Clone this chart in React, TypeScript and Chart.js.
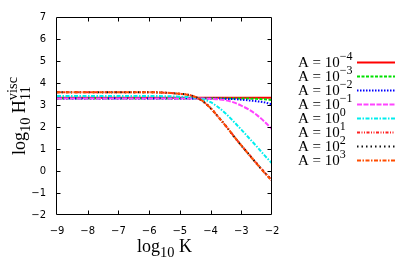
import { useEffect, useRef } from "react";
import { Chart, registerables } from "chart.js";

Chart.register(...registerables);

// ---- data ----
const logK = [-9, -8, -7, -6.5, -6, -5.5, -5, -4.75, -4.5, -4.25, -4, -3.75, -3.5, -3.25, -3, -2.75, -2.5, -2.25, -2];

const hA1em4 = [3.33, 3.33, 3.33, 3.33, 3.33, 3.33, 3.33, 3.33, 3.33, 3.33, 3.33, 3.33, 3.33, 3.33, 3.33, 3.33, 3.33, 3.33, 3.33];
const hA1em3 = [3.3, 3.3, 3.3, 3.3, 3.3, 3.3, 3.3, 3.3, 3.3, 3.3, 3.3, 3.3, 3.3, 3.3, 3.3, 3.29, 3.28, 3.26, 3.23];
const hA1em2 = [3.29, 3.29, 3.29, 3.29, 3.29, 3.29, 3.29, 3.29, 3.29, 3.29, 3.29, 3.29, 3.28, 3.27, 3.24, 3.21, 3.17, 3.12, 3.03];
const hA1em1 = [3.29, 3.29, 3.29, 3.29, 3.29, 3.29, 3.29, 3.29, 3.29, 3.29, 3.28, 3.26, 3.21, 3.12, 2.97, 2.79, 2.55, 2.25, 1.9];
const hA1e0 = [3.41, 3.41, 3.41, 3.41, 3.41, 3.4, 3.38, 3.36, 3.33, 3.26, 3.13, 2.9, 2.6, 2.25, 1.88, 1.5, 1.12, 0.72, 0.35];
const hA1e1 = [3.58, 3.58, 3.58, 3.58, 3.58, 3.56, 3.51, 3.47, 3.37, 3.17, 2.86, 2.46, 2.04, 1.6, 1.17, 0.76, 0.35, -0.05, -0.43];
const hA1e2 = [3.58, 3.58, 3.58, 3.58, 3.58, 3.56, 3.51, 3.47, 3.37, 3.17, 2.86, 2.46, 2.04, 1.59, 1.16, 0.75, 0.34, -0.06, -0.44];
const hA1e3 = [3.58, 3.58, 3.58, 3.58, 3.58, 3.56, 3.51, 3.47, 3.37, 3.17, 2.86, 2.46, 2.04, 1.59, 1.16, 0.74, 0.33, -0.07, -0.45];

const seriesValues = [hA1em4, hA1em3, hA1em2, hA1em1, hA1e0, hA1e1, hA1e2, hA1e3];
const legendExponents = ["\u22124", "\u22123", "\u22122", "\u22121", "0", "1", "2", "3"];

const xTickValues = [-9, -8, -7, -6, -5, -4, -3, -2];
const yTickValues = [-2, -1, 0, 1, 2, 3, 4, 5, 6, 7];

// ---- styles ----
const seriesStyles = [
  { color: "#ff0000", dash: [] as number[] },
  { color: "#00e000", dash: [3, 1.5] },
  { color: "#0000ff", dash: [1.5, 1.5] },
  { color: "#ff44ff", dash: [5, 1.5] },
  { color: "#00eeee", dash: [4, 1.5, 1.5, 1.5] },
  { color: "#ff2020", dash: [3, 1.5, 1, 1.5, 1, 1.5] },
  { color: "#111111", dash: [1.5, 3] },
  { color: "#ff4d00", dash: [4, 1.5, 1.5, 1.5] },
];

const SERIF = '"Liberation Serif", "Times New Roman", serif';
const SANS = '"DejaVu Sans", sans-serif';

type Seg = { t: string; s: number; dy: number; noAdvance?: boolean };

function drawSegs(ctx: CanvasRenderingContext2D, segs: Seg[], x: number, y: number, center: boolean) {
  let total = 0;
  let pend = 0;
  const widths = segs.map((g) => {
    ctx.font = `${g.s}px ${SERIF}`;
    return ctx.measureText(g.t).width;
  });
  segs.forEach((g, i) => {
    if (g.noAdvance) pend = Math.max(pend, widths[i]);
    else {
      total += Math.max(widths[i], pend);
      pend = 0;
    }
  });
  total += pend;
  let cx = center ? x - total / 2 : x;
  pend = 0;
  ctx.textAlign = "left";
  ctx.textBaseline = "alphabetic";
  segs.forEach((g, i) => {
    ctx.font = `${g.s}px ${SERIF}`;
    ctx.fillText(g.t, cx, y + g.dy);
    if (g.noAdvance) pend = Math.max(pend, widths[i]);
    else {
      cx += Math.max(widths[i], pend);
      pend = 0;
    }
  });
}

const framePlugin = {
  id: "gnuFrame",
  afterDatasetsDraw(chart: any) {
    const { ctx, chartArea: a, scales } = chart;
    const xs = scales.x;
    const ys = scales.y;
    ctx.save();
    ctx.strokeStyle = "#000";
    ctx.lineWidth = 1;
    ctx.setLineDash([]);
    const L = Math.round(a.left) - 0.5;
    const R = Math.round(a.right) - 0.5;
    const T = Math.round(a.top) + 0.5;
    const B = Math.round(a.bottom) - 0.5;
    ctx.beginPath();
    ctx.rect(L, T, R - L, B - T);
    ctx.stroke();
    const tl = 4;
    ctx.beginPath();
    for (const v of yTickValues) {
      const py = Math.round(ys.getPixelForValue(v)) + 0.5;
      if (py <= T + 1 || py >= B - 1) continue;
      ctx.moveTo(L, py);
      ctx.lineTo(L + tl, py);
      ctx.moveTo(R, py);
      ctx.lineTo(R - tl, py);
    }
    for (const v of xTickValues) {
      const px = Math.round(xs.getPixelForValue(v)) + 0.5;
      if (px <= L + 1 || px >= R - 1) continue;
      ctx.moveTo(px, B);
      ctx.lineTo(px, B - tl);
      ctx.moveTo(px, T);
      ctx.lineTo(px, T + tl);
    }
    ctx.stroke();

    // axis titles
    ctx.fillStyle = "#000";
    const cxm = (a.left + a.right) / 2;
    drawSegs(
      ctx,
      [
        { t: "log", s: 18, dy: 0 },
        { t: "10", s: 14.4, dy: 5 },
        { t: " K", s: 18, dy: 0 },
      ],
      cxm,
      252,
      true
    );
    ctx.save();
    ctx.translate(25, (a.top + a.bottom) / 2);
    ctx.rotate(-Math.PI / 2);
    drawSegs(
      ctx,
      [
        { t: "log", s: 18, dy: 0 },
        { t: "10", s: 14.4, dy: 5 },
        { t: " H", s: 18, dy: 0 },
        { t: "11", s: 14.4, dy: 5, noAdvance: true },
        { t: "visc", s: 14.4, dy: -8 },
      ],
      0,
      0,
      true
    );
    ctx.restore();

    // legend
    seriesStyles.forEach((st, i) => {
      const y = 62 + 14 * i;
      ctx.fillStyle = "#000";
      drawSegs(
        ctx,
        [
          { t: "A = 10", s: 15, dy: 0 },
          { t: legendExponents[i], s: 12, dy: -7 },
        ],
        298,
        y + 4.5,
        false
      );
      ctx.beginPath();
      ctx.strokeStyle = st.color;
      ctx.lineWidth = 2;
      ctx.setLineDash(st.dash);
      ctx.moveTo(357, y + 0.5);
      ctx.lineTo(395, y + 0.5);
      ctx.stroke();
    });
    ctx.restore();
  },
};

const fmt = (v: any) => String(v).replace("-", "\u2212");

export default function App() {
  const ref = useRef<HTMLCanvasElement | null>(null);
  useEffect(() => {
    if (!ref.current) return;
    const chart = new Chart(ref.current, {
      type: "line",
      data: {
        datasets: seriesValues.map((vals, i) => ({
          label: "A = 10^" + legendExponents[i],
          data: logK.map((x, j) => ({ x, y: vals[j] })),
          borderColor: seriesStyles[i].color,
          borderDash: seriesStyles[i].dash,
          borderWidth: 2,
          pointRadius: 0,
          fill: false,
          cubicInterpolationMode: "monotone" as const,
          order: seriesValues.length - 1 - i,
        })),
      },
      options: {
        animation: false,
        responsive: false,
        devicePixelRatio: 1,
        layout: { padding: { top: 7, right: 127, left: 0, bottom: 0 } },
        plugins: { legend: { display: false }, tooltip: { enabled: false } },
        scales: {
          x: {
            type: "linear",
            min: -9,
            max: -2,
            afterFit: (s: any) => {
              s.height = 49;
            },
            afterBuildTicks: (s: any) => {
              s.ticks = xTickValues.map((v) => ({ value: v }));
            },
            ticks: {
              font: { family: SANS, size: 10 },
              color: "#000",
              padding: 10,
              maxRotation: 0,
              callback: fmt,
            },
            grid: { display: false, drawTicks: false },
            border: { display: false },
          },
          y: {
            type: "linear",
            min: -2,
            max: 7,
            afterFit: (s: any) => {
              s.width = 57;
            },
            afterBuildTicks: (s: any) => {
              s.ticks = yTickValues.map((v) => ({ value: v }));
            },
            ticks: {
              font: { family: SANS, size: 10 },
              color: "#000",
              padding: 11,
              callback: fmt,
            },
            grid: { display: false, drawTicks: false },
            border: { display: false },
          },
        },
      },
      plugins: [framePlugin],
    } as any);
    return () => chart.destroy();
  }, []);
  return (
    <div style={{ position: "fixed", left: 0, top: 0, width: 399, height: 264, background: "#fff" }}>
      <canvas ref={ref} width={399} height={264} style={{ display: "block" }} />
    </div>
  );
}
